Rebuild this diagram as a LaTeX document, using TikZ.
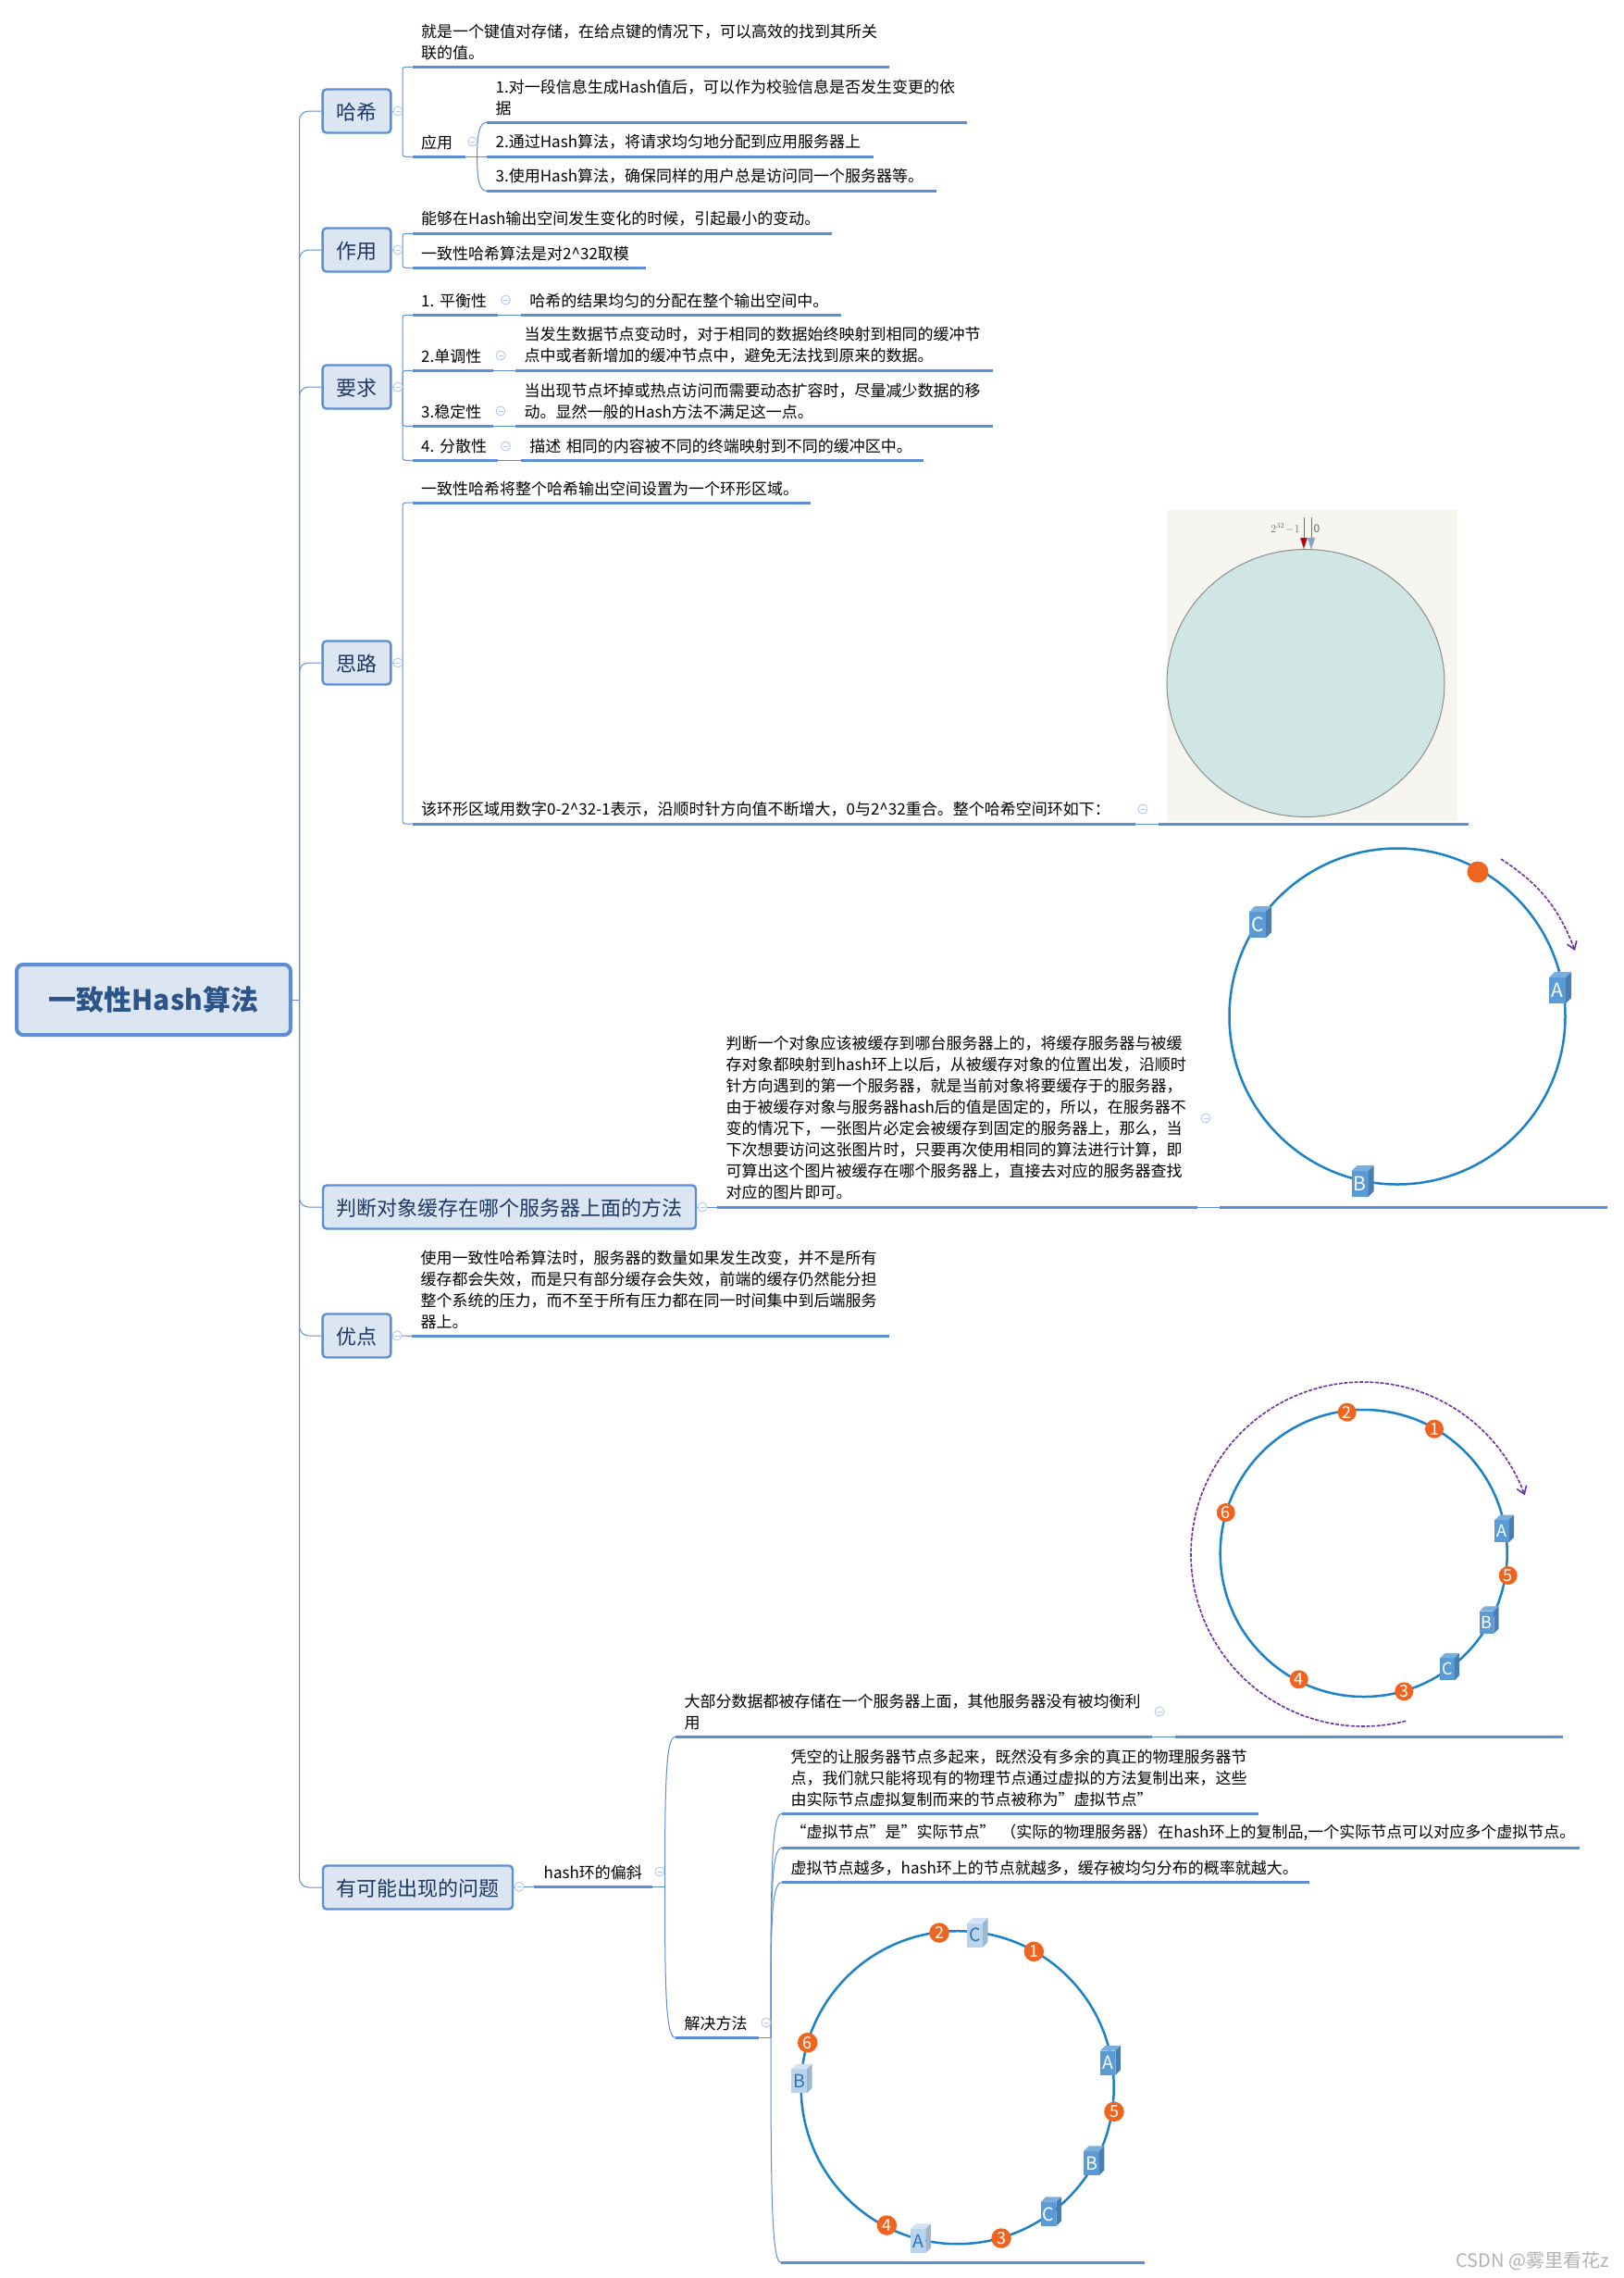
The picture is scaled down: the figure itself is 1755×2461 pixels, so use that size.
\documentclass[tikz,border=0pt]{standalone}
\usepackage{fontspec}
\usepackage{xcolor}
\setmainfont{Noto Sans CJK SC}
\usetikzlibrary{positioning,calc,arrows.meta,shapes.geometric}
\definecolor{mapblue}{HTML}{5B8ED6}
\definecolor{topicfill}{HTML}{DCE6F2}
\definecolor{topicink}{HTML}{1F3864}
\definecolor{rootink}{HTML}{2C5488}
\definecolor{foldblue}{HTML}{B7C6F0}
\definecolor{ringblue}{HTML}{1C82C8}
\definecolor{dotorange}{HTML}{EE6420}
\definecolor{sweep}{HTML}{7030A0}
\definecolor{panelbg}{HTML}{F6F5F0}
\definecolor{discfill}{HTML}{CFE6E4}
\definecolor{darkfront}{HTML}{5B9BD5}
\definecolor{darktop}{HTML}{7AAEDD}
\definecolor{darkside}{HTML}{4A7EB0}
\definecolor{darktext}{HTML}{FFFFFF}
\definecolor{palefront}{HTML}{B9D3EC}
\definecolor{paletop}{HTML}{D3E3F3}
\definecolor{paleside}{HTML}{9DB7D0}
\definecolor{paletext}{HTML}{2E75B6}
\newcommand{\foldbar}{\rule{5pt}{.9pt}}

\begin{document}
\begin{tikzpicture}[x=1pt,y=-1pt,
  root/.style={draw=mapblue, fill=topicfill, line width=4pt, rounded corners=7pt, minimum width=296pt, minimum height=76pt, text=rootink, font=\fontsize{30}{36}\selectfont\bfseries},
  topic/.style={draw=mapblue, fill=topicfill, line width=2.4pt, rounded corners=4pt, minimum height=47pt, text height=21pt, text depth=1.2pt, text=topicink, font=\fontsize{22}{26}\selectfont},
  leaf/.style={anchor=south west, inner xsep=9.5pt, inner ysep=7.5pt, align=left, font=\fontsize{17}{23}\selectfont, append after command={(\tikzlastnode.south west) edge[leafline] (\tikzlastnode.south east)}},
  leafline/.style={draw=mapblue, line width=3pt},
  fork/.style={draw=mapblue, line width=1pt, rounded corners=3pt},
  trunkline/.style={draw=mapblue, line width=1pt, rounded corners=10pt},
  fold/.style={circle, draw=foldblue, fill=white, line width=.9pt, inner sep=0pt, minimum size=10pt, text=foldblue},
  ring/.style={circle, draw=ringblue, line width=2.5pt, inner sep=0pt},
  dot/.style={circle, fill=dotorange, text=white, inner sep=0pt, minimum size=20pt, font=\fontsize{18}{20}\selectfont},
  sweeparrow/.style={draw=sweep, line width=1.6pt, dash pattern=on 4pt off 1.6pt, -{Straight Barb[length=8pt,width=11pt]}},
  pics/server/.style 2 args={code={
    \fill[#2front] (-12,-11) rectangle (6,17);
    \fill[#2top] (-12,-11) -- (-6,-17) -- (12,-17) -- (6,-11) -- cycle;
    \fill[#2side] (6,-11) -- (12,-17) -- (12,11) -- (6,17) -- cycle;
    \node[text=#2text, transform shape, inner sep=0pt, font=\fontsize{21}{24}\selectfont] (-tag) at (-3,3) {#1};
  }}]
\useasboundingbox (0,0) rectangle (1755,2461);
\node[root] (rootnode) at (166,1080) {一致性Hash算法};
\node[topic, minimum width=73.7pt] (hashnode) at (385.5,120) {哈希};
\node[topic, minimum width=73.7pt] (funcnode) at (385.5,270) {作用};
\node[topic, minimum width=73.7pt] (reqnode) at (385.5,418) {要求};
\node[topic, minimum width=73.7pt] (ideanode) at (385.5,716) {思路};
\node[topic, minimum width=403pt] (judgenode) at (550.5,1304) {判断对象缓存在哪个服务器上面的方法};
\node[topic, minimum width=73.7pt] (meritnode) at (385.5,1443) {优点};
\node[topic, minimum width=205pt] (problemnode) at (451.5,2039) {有可能出现的问题};
\coordinate (trunk) at (323.5,1080);
\draw[trunkline] (rootnode.east) -- (trunk);
\draw[trunkline] (trunk) |- (hashnode.west);
\draw[trunkline] (trunk) |- (funcnode.west);
\draw[trunkline] (trunk) |- (reqnode.west);
\draw[trunkline] (trunk) |- (ideanode.west);
\draw[trunkline] (trunk) |- (judgenode.west);
\draw[trunkline] (trunk) |- (meritnode.west);
\draw[trunkline] (trunk) |- (problemnode.west);

\node[leaf, text width=496.5pt] (hashdef) at (445.5,72.3) {就是一个键值对存储，在给点键的情况下，可以高效的找到其所关\\联的值。};
\node[leaf, text width=38.5pt] (hashuse) at (445.5,169.3) {应用};
\node[leaf, text width=500pt] (hashone) at (526,132.3) {1.对一段信息生成Hash值后，可以作为校验信息是否发生变更的依\\据};
\node[leaf, text width=398.5pt] (hashtwo) at (526,169.3) {2.通过Hash算法，将请求均匀地分配到应用服务器上};
\node[leaf, text width=466.6pt] (hashthree) at (526,206.3) {3.使用Hash算法，确保同样的用户总是访问同一个服务器等。};
\coordinate (hashfork) at (435,120);
\coordinate (usefork) at (515.6,169.3);
\draw[fork] (hashnode.east) -- (hashfork);
\draw[fork] (hashfork) |- (hashdef.south west);
\draw[fork] (hashfork) |- (hashuse.south west);
\draw[fork] (hashuse.south east) -- (usefork);
\draw[fork] (usefork) .. controls +(0,-25) and +(-8,0) .. (hashone.south west);
\draw[fork] (usefork) -- (hashtwo.south west);
\draw[fork] (usefork) .. controls +(0,25) and +(-8,0) .. (hashthree.south west);
\node[fold] (hashfold) at (430,120) {\foldbar};
\node[fold] (usefold) at (510.7,153) {\foldbar};

\node[leaf, text width=434.5pt] (funcone) at (445.5,252.3) {能够在Hash输出空间发生变化的时候，引起最小的变动。};
\node[leaf, text width=233.5pt] (functwo) at (445.5,289.3) {一致性哈希算法是对2\textasciicircum{}32取模};
\coordinate (funcfork) at (435,270);
\draw[fork] (funcnode.east) -- (funcfork);
\draw[fork] (funcfork) |- (funcone.south west);
\draw[fork] (funcfork) |- (functwo.south west);
\node[fold] (funcfold) at (430,270) {\foldbar};

\node[leaf, text width=73.5pt] (reqone) at (445.5,340.3) {1.~平衡性};
\node[leaf, text width=326.9pt] (reqonetext) at (562.6,340.3) {哈希的结果均匀的分配在整个输出空间中。};
\node[leaf, text width=68.5pt] (reqtwo) at (445.5,400.3) {2.单调性};
\node[leaf, text width=497pt] (reqtwotext) at (557,400.3) {当发生数据节点变动时，对于相同的数据始终映射到相同的缓冲节\\点中或者新增加的缓冲节点中，避免无法找到原来的数据。};
\node[leaf, text width=68.5pt] (reqthree) at (445.5,460.3) {3.稳定性};
\node[leaf, text width=497pt] (reqthreetext) at (557,460.3) {当出现节点坏掉或热点访问而需要动态扩容时，尽量减少数据的移\\动。显然一般的Hash方法不满足这一点。};
\node[leaf, text width=73.5pt] (reqfour) at (445.5,497.3) {4.~分散性};
\node[leaf, text width=416.4pt] (reqfourtext) at (562.6,497.3) {描述~相同的内容被不同的终端映射到不同的缓冲区中。};
\coordinate (reqfork) at (435,418);
\draw[fork] (reqnode.east) -- (reqfork);
\draw[fork] (reqfork) |- (reqone.south west);
\draw[fork] (reqfork) |- (reqtwo.south west);
\draw[fork] (reqfork) |- (reqthree.south west);
\draw[fork] (reqfork) |- (reqfour.south west);
\draw[fork] (reqone.south east) -- (reqonetext.south west);
\draw[fork] (reqtwo.south east) -- (reqtwotext.south west);
\draw[fork] (reqthree.south east) -- (reqthreetext.south west);
\draw[fork] (reqfour.south east) -- (reqfourtext.south west);
\node[fold] (reqfold) at (430,418) {\foldbar};
\node[fold] (reqonefold) at (546.5,324) {\foldbar};
\node[fold] (reqtwofold) at (541,384) {\foldbar};
\node[fold] (reqthreefold) at (541,444) {\foldbar};
\node[fold] (reqfourfold) at (546.5,482) {\foldbar};

\node[leaf, text width=411.5pt] (ideaone) at (445.5,543.2) {一致性哈希将整个哈希输出空间设置为一个环形区域。};
\node[leaf, text width=762.5pt] (ideatwo) at (445.5,890) {该环形区域用数字0-2\textasciicircum{}32-1表示，沿顺时针方向值不断增大，0与2\textasciicircum{}32重合。整个哈希空间环如下：};
\node[leaf, text width=316pt] (ideapic) at (1252,890) {};
\coordinate (ideafork) at (435,716);
\draw[fork] (ideanode.east) -- (ideafork);
\draw[fork] (ideafork) |- (ideaone.south west);
\draw[fork] (ideafork) |- (ideatwo.south west);
\draw[fork] (ideatwo.south east) -- (ideapic.south west);
\node[fold] (ideafold) at (430,716) {\foldbar};
\node[fold] (ideatwofold) at (1235,874) {\foldbar};
\node[fill=panelbg, minimum width=314pt, minimum height=336pt, inner sep=0pt] (panel) at (1418,719) {};
\node[ellipse, draw=black!45, fill=discfill, line width=1pt, minimum width=300pt, minimum height=289pt, inner sep=0pt] (disc) at (1411,738) {};
\coordinate (maxtop) at (1409,559);
\coordinate (zerotop) at (1417,559);
\coordinate (maxbase) at (1409,582);
\coordinate (zerobase) at (1417,582);
\draw[black!55, line width=.7pt] (maxtop) -- (maxbase);
\draw[black!55, line width=.7pt] (zerotop) -- (zerobase);
\fill[red!75!black, draw=black!35, line width=.4pt] (1405,581) -- (1413,581) -- (1409,593) -- cycle;
\fill[cyan!45!blue!50, draw=black!35, line width=.4pt] (1413,581) -- (1421,581) -- (1417,593) -- cycle;
\node[anchor=east, inner sep=0pt, text=black!60, font=\fontsize{12}{14}\selectfont] (maxlabel) at (1405,571) {$2^{32}\!-\!1$};
\node[anchor=center, inner sep=0pt, text=black!60, font=\fontsize{12}{14}\selectfont] (zerolabel) at (1423,571) {0};

\node[leaf, text width=500pt] (judgetext) at (775,1304) {判断一个对象应该被缓存到哪台服务器上的，将缓存服务器与被缓\\存对象都映射到hash环上以后，从被缓存对象的位置出发，沿顺时\\针方向遇到的第一个服务器，就是当前对象将要缓存于的服务器，\\由于被缓存对象与服务器hash后的值是固定的，所以，在服务器不\\变的情况下，一张图片必定会被缓存到固定的服务器上，那么，当\\下次想要访问这张图片时，只要再次使用相同的算法进行计算，即\\可算出这个图片被缓存在哪个服务器上，直接去对应的服务器查找\\对应的图片即可。};
\node[leaf, text width=400pt] (judgepic) at (1318,1304) {};
\draw[fork] (judgenode.east) -- (judgetext.south west);
\draw[fork] (judgetext.south east) -- (judgepic.south west);
\node[fold] (judgefold) at (759,1304) {\foldbar};
\node[fold] (judgetextfold) at (1303,1208) {\foldbar};
\node[ring, minimum size=363pt] (ringone) at (1510,1098) {};
\node[dot, minimum size=23pt] (objectdot) at (1597,942) {};
\pic (onea) at (1686,1067) {server={A}{dark}};
\pic (oneb) at (1472.5,1276) {server={B}{dark}};
\pic (onec) at (1362,996) {server={C}{dark}};
\coordinate (onestart) at (1622,928);
\coordinate (oneend) at (1702,1027);
\draw[sweeparrow] (onestart) to[bend left=18] (oneend);

\node[leaf, text width=497pt] (merittext) at (445,1443.3) {使用一致性哈希算法时，服务器的数量如果发生改变，并不是所有\\缓存都会失效，而是只有部分缓存会失效，前端的缓存仍然能分担\\整个系统的压力，而不至于所有压力都在同一时间集中到后端服务\\器上。};
\draw[fork] (meritnode.east) -- (merittext.south west);
\node[fold] (meritfold) at (429,1443) {\foldbar};

\node[leaf, inner xsep=10.5pt, text width=107pt] (skew) at (577,2038.3) {hash环的偏斜};
\node[leaf, text width=496pt] (skewone) at (730,1876.3) {大部分数据都被存储在一个服务器上面，其他服务器没有被均衡利\\用};
\node[leaf, text width=399.5pt] (skewpic) at (1270,1876.3) {};
\node[leaf, text width=71pt] (solve) at (730,2201.3) {解决方法};
\node[leaf, text width=496pt] (virtone) at (845,1959.3) {凭空的让服务器节点多起来，既然没有多余的真正的物理服务器节\\点，我们就只能将现有的物理节点通过虚拟的方法复制出来，这些\\由实际节点虚拟复制而来的节点被称为”虚拟节点”};
\node[leaf, text width=843pt] (virttwo) at (845,1996.3) {“虚拟节点”是”实际节点”~（实际的物理服务器）在hash环上的复制品,一个实际节点可以对应多个虚拟节点。};
\node[leaf, text width=551pt] (virtthree) at (845,2033.7) {虚拟节点越多，hash环上的节点就越多，缓存被均匀分布的概率就越大。};
\node[leaf, text width=374pt] (solvepic) at (844,2444.3) {};
\coordinate (skewfork) at (718.5,2038.3);
\coordinate (solvefork) at (833,2201.3);
\draw[fork] (problemnode.east) -- (skew.south west);
\draw[fork] (skew.south east) -- (skewfork);
\draw[fork] (skewfork) .. controls +(0,-120) and +(-10,0) .. (skewone.south west);
\draw[fork] (skewfork) .. controls +(0,120) and +(-10,0) .. (solve.south west);
\draw[fork] (skewone.south east) -- (skewpic.south west);
\draw[fork] (solve.south east) -- (solvefork);
\draw[fork] (solvefork) .. controls +(0,-170) and +(-12,0) .. (virtone.south west);
\draw[fork] (solvefork) .. controls +(0,-150) and +(-12,0) .. (virttwo.south west);
\draw[fork] (solvefork) .. controls +(0,-120) and +(-12,0) .. (virtthree.south west);
\draw[fork] (solvefork) .. controls +(0,170) and +(-10,0) .. (solvepic.south west);
\node[fold] (problemfold) at (561,2038.3) {\foldbar};
\node[fold] (skewfold) at (713,2022) {\foldbar};
\node[fold] (skewonefold) at (1253,1849) {\foldbar};
\node[fold] (solvefold) at (828,2185) {\foldbar};

\node[ring, minimum size=310pt] (ringtwo) at (1473.7,1678) {};
\node[dot] (twoone) at (1550,1543.7) {1};
\node[dot] (twotwo) at (1455.7,1525.7) {2};
\node[dot] (twothree) at (1517.3,1827.3) {3};
\node[dot] (twofour) at (1403.7,1814.3) {4};
\node[dot] (twofive) at (1629.7,1702) {5};
\node[dot] (twosix) at (1324.7,1634) {6};
\pic[scale=.86] (twoa) at (1625.7,1651.3) {server={A}{dark}};
\pic[scale=.86] (twob) at (1609.3,1750) {server={B}{dark}};
\pic[scale=.86] (twoc) at (1566.7,1800.7) {server={C}{dark}};
\draw[sweeparrow] plot[domain=75.6:340, samples=90, smooth] ({1473+186*cos(\x)},{1679+186*sin(\x)});

\node[ring, minimum size=338pt] (ringthree) at (1034.7,2255.2) {};
\node[dot, minimum size=21.5pt] (threeone) at (1117.3,2108.3) {1};
\node[dot, minimum size=21.5pt] (threetwo) at (1015,2088) {2};
\node[dot, minimum size=21.5pt] (threethree) at (1082,2418) {3};
\node[dot, minimum size=21.5pt] (threefour) at (958.3,2404) {4};
\node[dot, minimum size=21.5pt] (threefive) at (1204,2281.3) {5};
\node[dot, minimum size=21.5pt] (threesix) at (872.7,2206.7) {6};
\pic[scale=.93] (threea) at (1199.8,2225.8) {server={A}{dark}};
\pic[scale=.93] (threeb) at (1182.2,2334.2) {server={B}{dark}};
\pic[scale=.93] (threec) at (1135.8,2389.2) {server={C}{dark}};
\pic[scale=.93] (threepa) at (994.8,2418.2) {server={A}{pale}};
\pic[scale=.93] (threepb) at (866.5,2245.5) {server={B}{pale}};
\pic[scale=.93] (threepc) at (1056.5,2087.8) {server={C}{pale}};
\node[anchor=east, inner sep=0pt, text=black!30, font=\fontsize{20}{24}\selectfont] (watermark) at (1739,2443) {CSDN @雾里看花z};
\end{tikzpicture}
\end{document}
